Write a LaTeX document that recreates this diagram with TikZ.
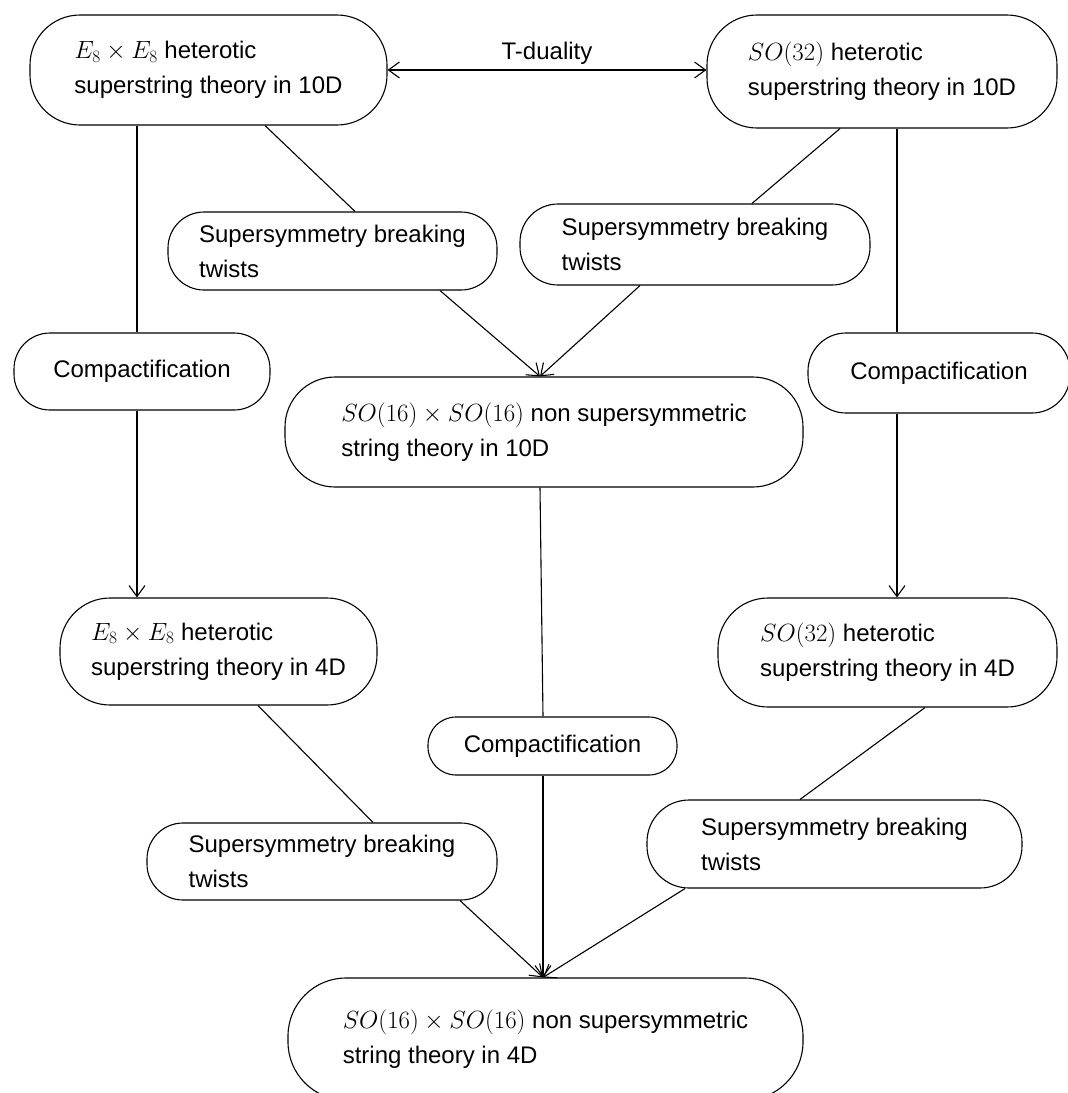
\documentclass[tikz,border=0pt]{standalone}
\usepackage{fontspec}
\setmainfont{Liberation Sans}
\usetikzlibrary{arrows.meta}
\newcommand\mth[1]{{\fontsize{27}{35}\selectfont$#1$}}
\begin{document}
\begin{tikzpicture}[x=1pt,y=-1pt,
  box/.style={draw, line width=1.1pt, rounded corners=#1, align=left, inner sep=0pt,
    font=\fontsize{24}{35}\selectfont},
  link/.style={line width=1.1pt},
  arr/.style={line width=1.1pt, -{Straight Barb[length=11pt,width=16pt]}},
  both/.style={line width=1.1pt, {Straight Barb[length=11pt,width=16pt]}-{Straight Barb[length=11pt,width=16pt]}}]
\useasboundingbox (0,0) rectangle (1068,1093);

\node[box=50, minimum width=357, minimum height=110] (A) at (208.5,70) {\mth{E_8\times E_8} heterotic\\superstring theory in 10D};
\node[box=50, minimum width=350, minimum height=113] (B) at (882,71.5) {\mth{SO(32)} heterotic\\superstring theory in 10D};
\node[box=36, minimum width=329, minimum height=78] (C) at (332.5,251) {Supersymmetry breaking\\twists};
\node[box=38, minimum width=350, minimum height=81] (D) at (695,244.5) {Supersymmetry breaking\\twists};
\node[box=36, minimum width=256, minimum height=77] (E) at (142,371.5) {Compactification};
\node[box=50, minimum width=518, minimum height=110] (F) at (544,432) {\mth{SO(16)\times SO(16)} non supersymmetric\\string theory in 10D};
\node[box=38, minimum width=262, minimum height=80] (G) at (939,373) {Compactification};
\node[box=50, minimum width=317, minimum height=107] (H) at (218.5,651.5) {\mth{E_8\times E_8} heterotic\\superstring theory in 4D};
\node[box=50, minimum width=339, minimum height=109] (I) at (887.5,652.5) {\mth{SO(32)} heterotic\\superstring theory in 4D};
\node[box=28, minimum width=249, minimum height=58] (J) at (552.5,746) {Compactification};
\node[box=36, minimum width=350, minimum height=77] (K) at (322,861.5) {Supersymmetry breaking\\twists};
\node[box=42, minimum width=375, minimum height=88] (L) at (834.5,844) {Supersymmetry breaking\\twists};
\node[box=58, minimum width=515, minimum height=122] (M) at (545.5,1039) {\mth{SO(16)\times SO(16)} non supersymmetric\\string theory in 4D};

\draw[both] (A.east) -- node[above=2pt, font=\fontsize{24}{28}\selectfont] (td) {T-duality} (A.east -| B.west);

\draw[link] (A.south -| 137,0) -- (E.north -| 137,0);
\draw[arr] (E.south -| 137,0) -- (H.north -| 137,0);
\draw[link] (A.south -| 265,0) -- (C.north -| 355,0);
\draw[link] (B.south -| 840,0) -- (D.north -| 752,0);
\draw[arr] (C.south -| 440,0) -- (F.north -| 540,0);
\draw[arr] (D.south -| 640,0) -- (F.north -| 540,0);
\draw[link] (B.south -| 897,0) -- (G.north -| 897,0);
\draw[arr] (G.south -| 897,0) -- (I.north -| 897,0);
\draw[link] (F.south -| 540,0) -- (J.north -| 543,0);
\draw[arr] (J.south -| 543,0) -- (M.north -| 543,0);
\draw[link] (H.south -| 258,0) -- (K.north -| 373,0);
\draw[link] (I.south -| 925,0) -- (L.north -| 800,0);
\draw[arr] (K.south -| 460,0) -- (M.north -| 543,0);
\draw[arr] (L.south -| 685,0) -- (M.north -| 543,0);
\end{tikzpicture}
\end{document}
